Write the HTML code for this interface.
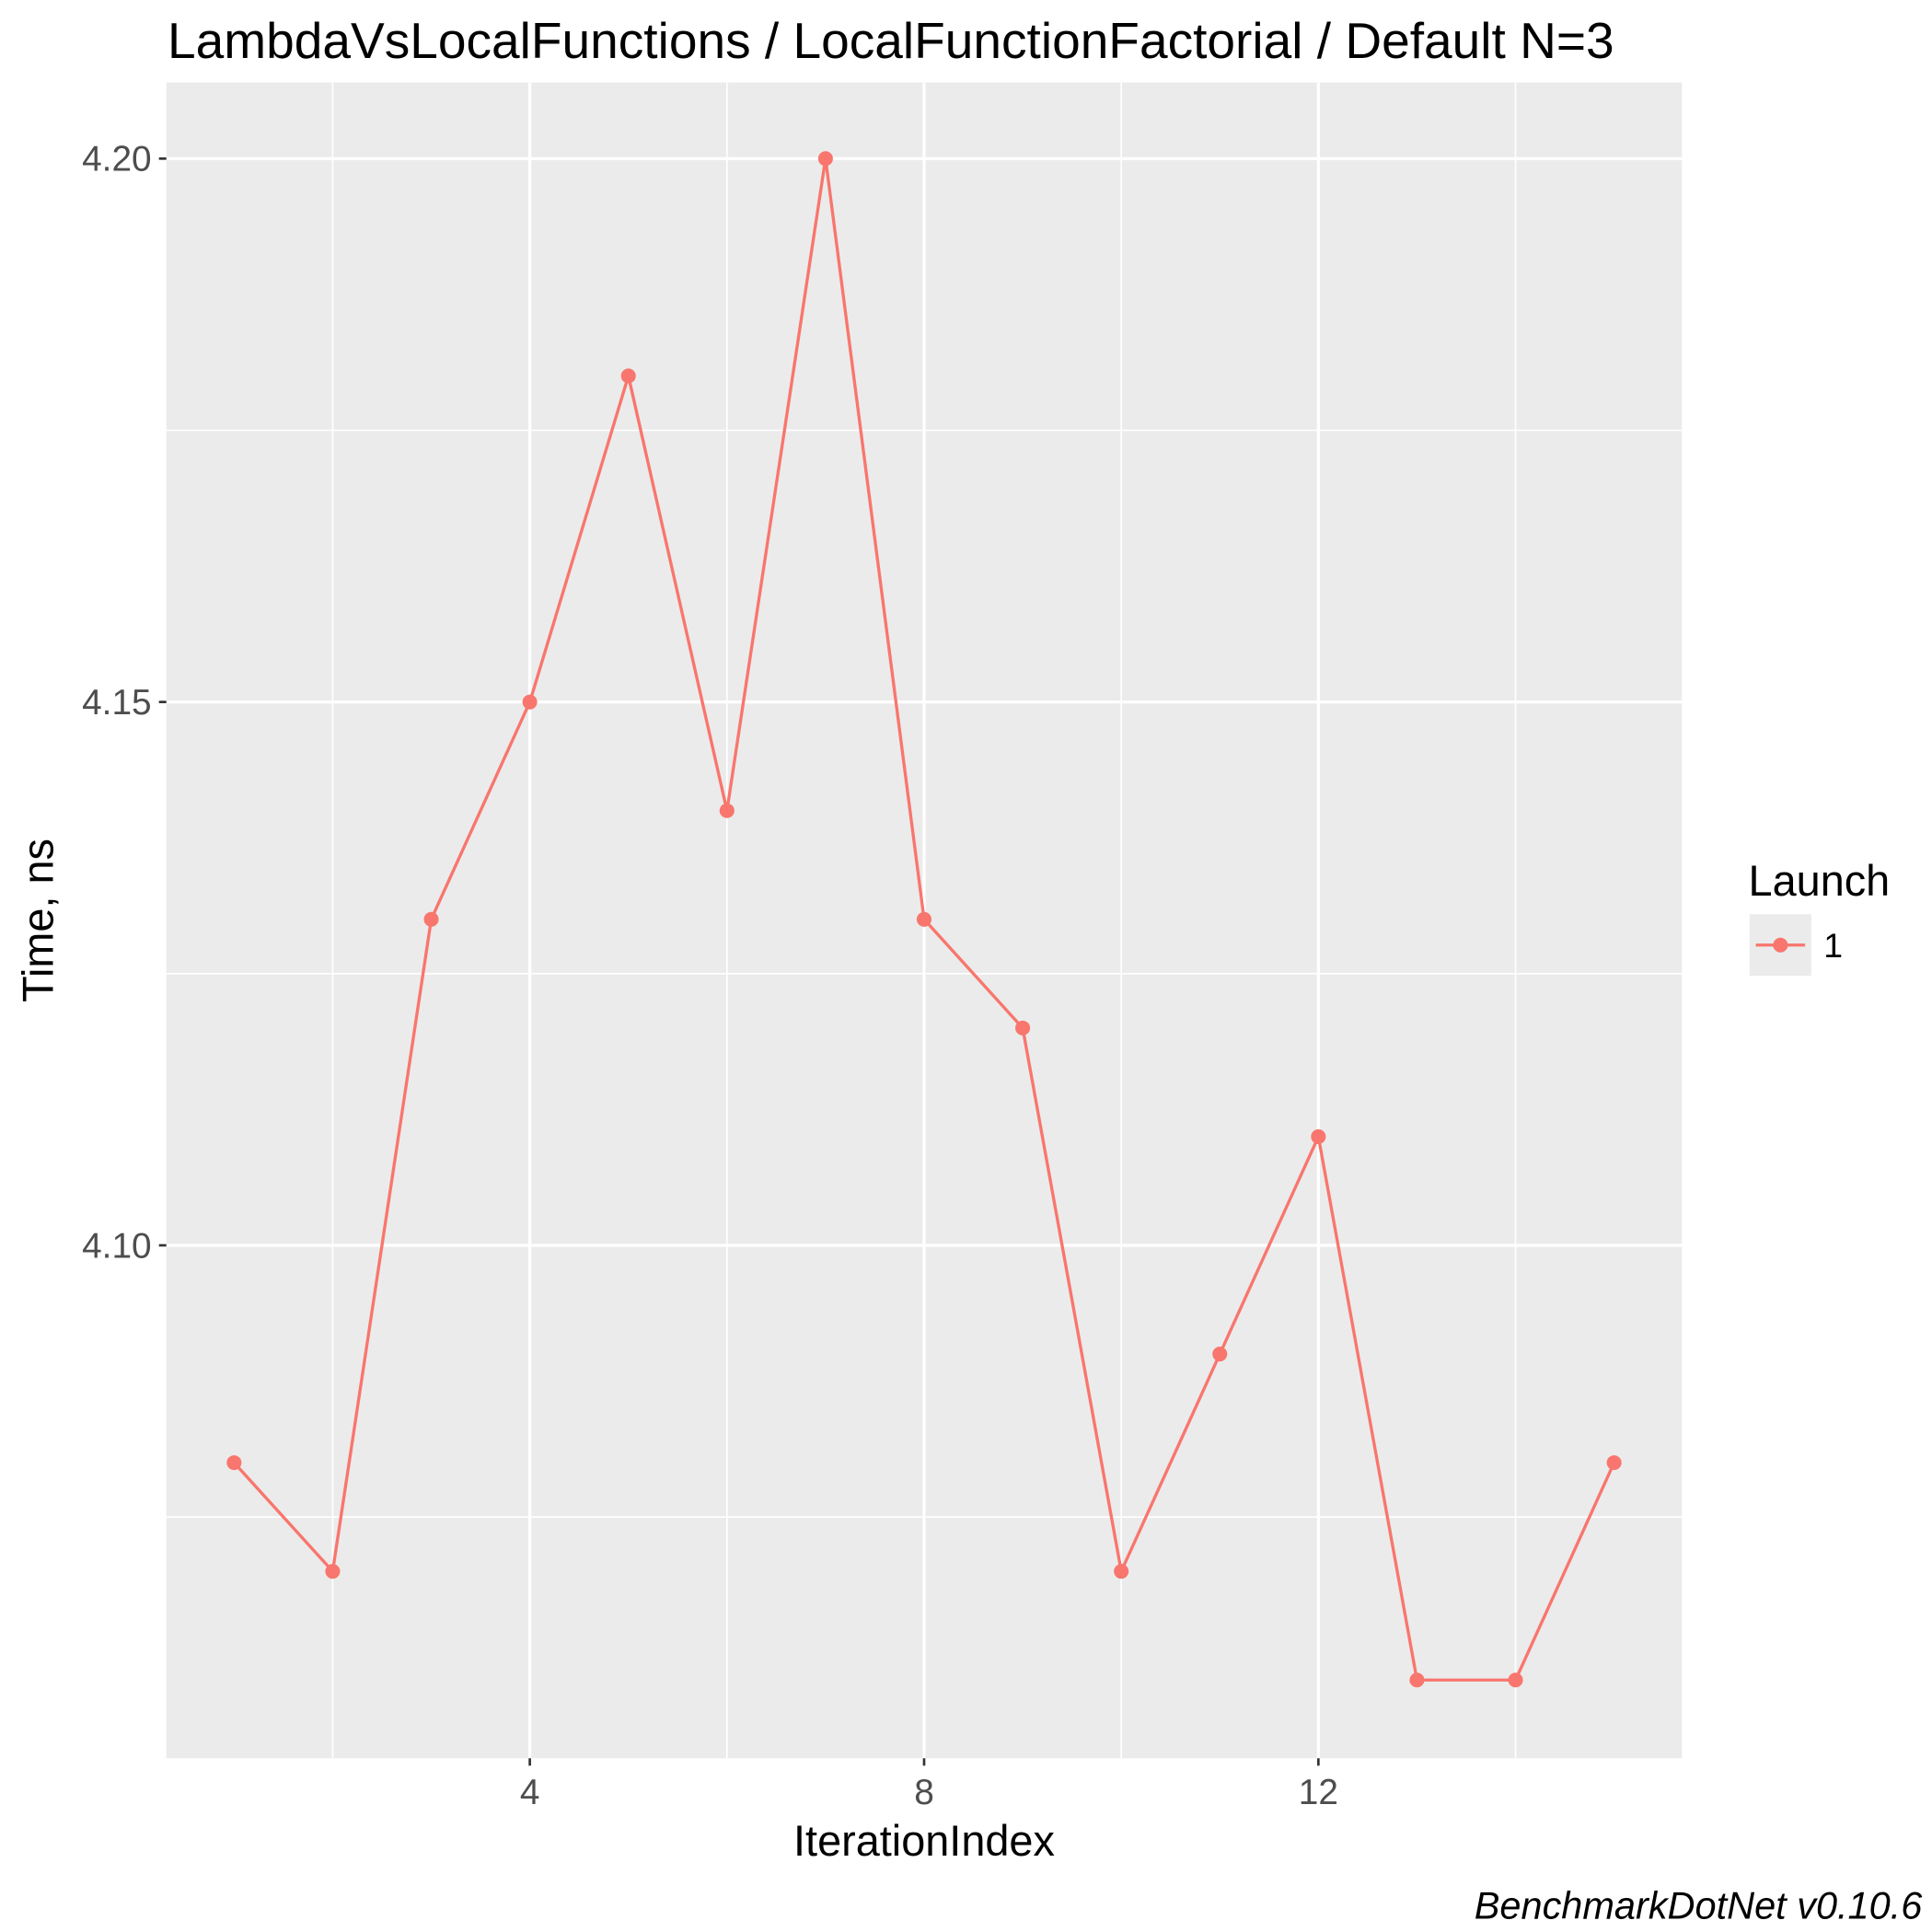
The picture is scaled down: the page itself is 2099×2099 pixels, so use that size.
<!DOCTYPE html>
<html><head><meta charset="utf-8"><style>
html,body{margin:0;padding:0;background:#fff}
svg{display:block}
text{font-family:"Liberation Sans",Arial,sans-serif}
</style></head><body>
<svg id="chart" width="2099" height="2099" viewBox="0 0 1568 1568" xmlns="http://www.w3.org/2000/svg">
<text x="136" y="47" font-size="41" textLength="1174" lengthAdjust="spacingAndGlyphs" fill="#000">LambdaVsLocalFunctions / LocalFunctionFactorial / Default N=3</text>
<rect x="135" y="67" width="1230" height="1360" fill="#ebebeb"/>
<g id="grid"></g>
<g id="series"></g>
<g id="axes"></g>
<text x="750" y="1506" font-size="35" text-anchor="middle" fill="#000">IterationIndex</text>
<text transform="translate(43,747) rotate(-90)" font-size="35" text-anchor="middle" fill="#000">Time, ns</text>
<g>
<text x="1419" y="727" font-size="35" fill="#000">Launch</text>
<rect x="1420" y="742" width="50" height="50" fill="#ebebeb"/>
<line x1="1425" y1="767" x2="1465" y2="767" stroke="#f8766d" stroke-width="2.5"/>
<circle cx="1445" cy="767" r="6" fill="#f8766d"/>
<text x="1480" y="777" font-size="28" fill="#000">1</text>
</g>
<text x="1560" y="1557" font-size="31" font-style="italic" text-anchor="end" fill="#000">BenchmarkDotNet v0.10.6</text>
</svg>
<script>
const iterations=[1,2,3,4,5,6,7,8,9,10,11,12,13,14,15];
const times=[4.08,4.07,4.13,4.15,4.18,4.14,4.20,4.13,4.12,4.07,4.09,4.11,4.06,4.06,4.08];
const yTicks=[4.10,4.15,4.20];
const yTickLabels=["4.10","4.15","4.20"];
const yMinor=[4.075,4.125,4.175];
const xTicks=[4,8,12];
const xMinor=[2,6,10,14];

const X0=135,X1=1365,Y0=67,Y1=1427;
const xMin=0.3125,xMax=15.6875,yMin=4.0528,yMax=4.2070;
function sx(v){return X0+(v-xMin)/(xMax-xMin)*(X1-X0);}
function sy(v){return Y1-(v-yMin)/(yMax-yMin)*(Y1-Y0);}
const NS="http://www.w3.org/2000/svg";
function mk(tag,attrs,parent){const e=document.createElementNS(NS,tag);for(const k in attrs)e.setAttribute(k,attrs[k]);parent.appendChild(e);return e;}
const grid=document.getElementById('grid'),ser=document.getElementById('series'),ax=document.getElementById('axes');
yMinor.forEach(v=>{const l=mk('line',{x1:X0,x2:X1,y1:sy(v),y2:sy(v),stroke:'#fff','stroke-width':1.2},grid);

});
xMinor.forEach(v=>{const l=mk('line',{x1:sx(v),x2:sx(v),y1:Y0,y2:Y1,stroke:'#fff','stroke-width':1.2},grid);

});
yTicks.forEach((v,i)=>{const l=mk('line',{x1:X0,x2:X1,y1:sy(v),y2:sy(v),stroke:'#fff','stroke-width':2.4},grid);


const t=mk('line',{x1:X0-6,x2:X0,y1:sy(v),y2:sy(v),stroke:'#333','stroke-width':2},ax);


const tx=mk('text',{x:X0-12,y:sy(v)+10,'font-size':29,'text-anchor':'end',fill:'#4d4d4d'},ax);tx.textContent=yTickLabels[i];

});
xTicks.forEach(v=>{const l=mk('line',{x1:sx(v),x2:sx(v),y1:Y0,y2:Y1,stroke:'#fff','stroke-width':2.4},grid);


const t=mk('line',{x1:sx(v),x2:sx(v),y1:Y1,y2:Y1+6,stroke:'#333','stroke-width':2},ax);


const tx=mk('text',{x:sx(v),y:Y1+37,'font-size':29,'text-anchor':'middle',fill:'#4d4d4d'},ax);tx.textContent=String(v);

});
const pts=iterations.map((x,i)=>sx(x)+','+sy(times[i])).join(' ');
const pl=mk('polyline',{points:pts,fill:'none',stroke:'#f8766d','stroke-width':2.5},ser);


iterations.forEach((x,i)=>{const c=mk('circle',{cx:sx(x),cy:sy(times[i]),r:6,fill:'#f8766d'},ser);

});
</script>
</body></html>
